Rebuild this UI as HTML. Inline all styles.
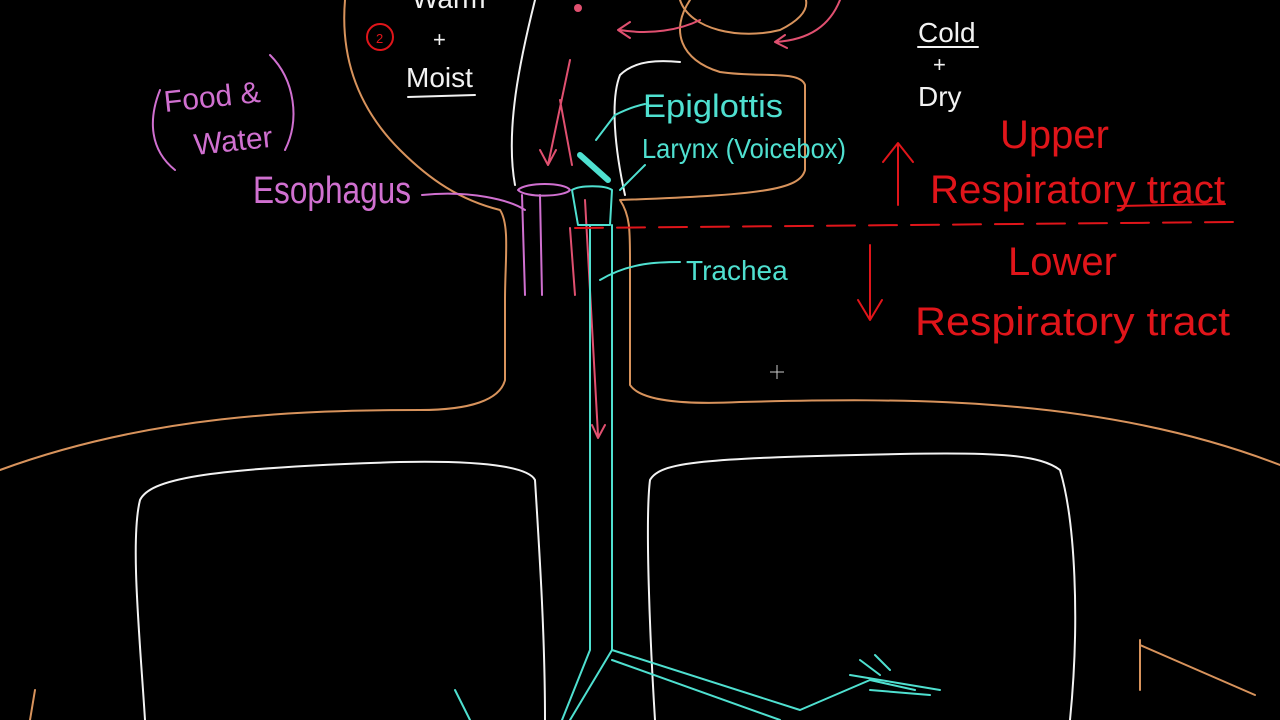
<!DOCTYPE html>
<html><head><meta charset="utf-8"><style>
html,body{margin:0;padding:0;background:#000;width:1280px;height:720px;overflow:hidden}
svg{display:block}
text{font-family:"Liberation Sans",sans-serif}
</style></head><body>
<svg width="1280" height="720" viewBox="0 0 1280 720">
<g fill="none" stroke-linecap="round" stroke-linejoin="round">
<path stroke="#d8935c" stroke-width="2" d="M345,0 C340,60 360,110 400,150 C430,180 460,200 500,210 C510,225 505,260 505,300 L505,380 C500,400 470,410 420,410 C300,410 150,415 0,470"/>
<path stroke="#d8935c" stroke-width="2" d="M690,0 C670,30 680,60 720,72 C760,78 800,70 805,85 L805,170 C800,190 760,195 620,200 C630,215 630,230 630,260 L630,385 C640,400 680,405 740,402 C900,398 1100,395 1280,465"/>
<path stroke="#d8935c" stroke-width="2" d="M680,0 C690,30 740,40 780,30 C800,20 808,10 806,0"/>
<path stroke="#d8935c" stroke-width="2" d="M1140,640 L1140,690 M1140,645 L1255,695 M35,690 L30,720"/>
<path stroke="#f2f2f2" stroke-width="2" d="M535,0 C520,60 505,130 515,185 M625,195 C615,150 610,100 620,75 C635,60 660,60 680,62"/>
<path stroke="#f2f2f2" stroke-width="2" d="M145,720 C140,640 130,540 140,500 C150,480 200,468 400,462 C500,460 530,470 535,480 C540,560 545,640 545,720"/>
<path stroke="#f2f2f2" stroke-width="2" d="M655,720 C650,640 645,520 650,480 C660,462 700,458 900,454 C1000,452 1040,455 1060,470 C1075,520 1080,620 1070,720"/>
<path stroke="#d070d0" stroke-width="2" d="M522,195 L525,295 M540,195 L542,295 M518,190 C525,182 565,182 570,190 C565,197 525,198 518,190 M422,195 C470,190 510,200 525,210"/>
<path stroke="#e05070" stroke-width="2" d="M570,60 L548,165 M540,150 L548,165 L556,150 M560,100 L572,165 M585,200 L598,435 M592,425 L598,438 L605,425 M570,228 L575,295 M700,20 C680,30 650,35 620,30 M630,22 L618,30 L630,38 M840,0 C830,25 810,40 775,42 M785,35 L775,42 L787,48"/>
<path stroke="#4fe0d0" stroke-width="2" d="M572,190 C580,185 605,185 612,190 L610,225 L578,225 Z M590,225 L590,650 M612,225 L612,650 M590,650 L562,720 M612,650 L570,720 M612,650 L800,710 M612,660 L780,720 M800,710 L870,680 L915,690 M860,660 L880,675 M875,655 L890,670 M850,675 L940,690 M870,690 L930,695 M455,690 L470,720 M600,280 C630,262 660,262 680,262 M596,140 L615,115 C625,110 635,106 645,104 M620,190 L645,165"/>
<path stroke="#4fe0d0" stroke-width="6" d="M580,155 L608,180"/>
<path stroke="#e0151a" stroke-width="2" stroke-dasharray="28,14" d="M575,228 L1235,222"/>
<path stroke="#e0151a" stroke-width="2" d="M898,205 L898,145 M883,162 L898,143 L913,162"/>
<path stroke="#e0151a" stroke-width="2" d="M870,245 L870,318 M858,300 L870,320 L882,300"/>
<circle cx="380" cy="37" r="13" stroke="#e0151a" stroke-width="2"/>
<path stroke="#d070d0" stroke-width="2" d="M160,90 C148,120 150,150 175,170 M270,55 C295,80 300,120 285,150"/>
<path stroke="#f2f2f2" stroke-width="2" d="M918,47 L978,47 M408,97 L475,95"/>
<path stroke="#e0151a" stroke-width="2" d="M1118,206 L1225,204"/>
</g>
<circle cx="578" cy="8" r="4" fill="#e05070"/>
<g fill="#f2f2f2" font-size="28">
<text x="376" y="43" font-size="13" fill="#e0151a">2</text>
<text x="412" y="8">Warm</text>
<text x="433" y="47" font-size="22">+</text>
<text x="406" y="87">Moist</text>
<text x="918" y="42">Cold</text>
<text x="933" y="72" font-size="22">+</text>
<text x="918" y="106">Dry</text>
</g>
<g fill="#d070d0">
<text x="165" y="112" font-size="30" transform="rotate(-6 165 112)">Food &amp;</text>
<text x="195" y="155" font-size="30" transform="rotate(-6 195 155)">Water</text>
<text x="253" y="203" font-size="38" textLength="158" lengthAdjust="spacingAndGlyphs">Esophagus</text>
</g>
<g fill="#4fe0d0">
<text x="643" y="117" font-size="32" textLength="140" lengthAdjust="spacingAndGlyphs">Epiglottis</text>
<text x="642" y="158" font-size="28" textLength="204" lengthAdjust="spacingAndGlyphs">Larynx (Voicebox)</text>
<text x="686" y="280" font-size="28">Trachea</text>
</g>
<g fill="#e0151a" font-size="40">
<text x="1000" y="148">Upper</text>
<text x="930" y="203" textLength="295" lengthAdjust="spacingAndGlyphs">Respiratory tract</text>
<text x="1008" y="275">Lower</text>
<text x="915" y="335" textLength="315" lengthAdjust="spacingAndGlyphs">Respiratory tract</text>
</g>
<path d="M770,372 L784,372 M777,365 L777,379" stroke="#ccc" stroke-width="1"/>
</svg>
</body></html>
